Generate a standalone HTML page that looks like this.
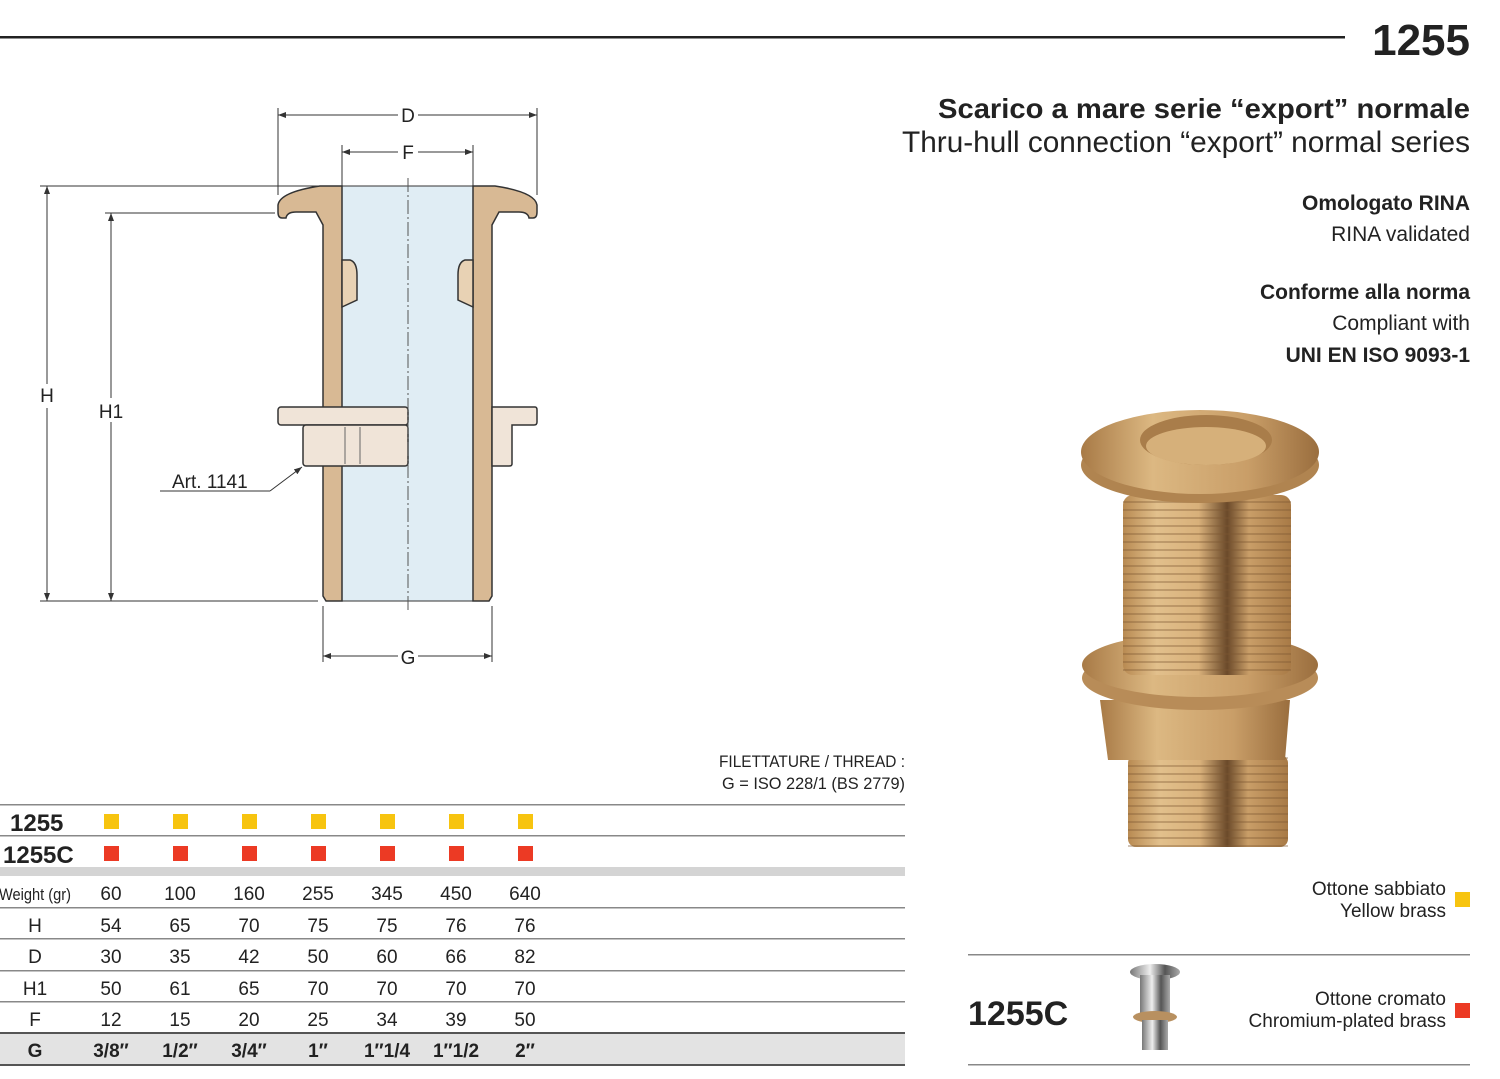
<!DOCTYPE html>
<html><head><meta charset="utf-8"><style>
html,body{margin:0;padding:0;background:#fff;}
svg{display:block;}
text{font-family:"Liberation Sans",sans-serif;fill:#222;}
</style></head><body>
<svg width="1500" height="1079" viewBox="0 0 1500 1079" xmlns="http://www.w3.org/2000/svg">
<defs>
<linearGradient id="br" x1="0" x2="1" y1="0" y2="0">
<stop offset="0" stop-color="#b88a52"/><stop offset="0.2" stop-color="#e2c08c"/><stop offset="0.45" stop-color="#d8b07a"/><stop offset="0.62" stop-color="#6b4a2a"/><stop offset="0.75" stop-color="#c99e68"/><stop offset="1" stop-color="#a87a46"/>
</linearGradient>
<linearGradient id="br2" x1="0" x2="1" y1="0" y2="0">
<stop offset="0" stop-color="#a87a46"/><stop offset="0.3" stop-color="#dcb882"/><stop offset="0.7" stop-color="#c99e68"/><stop offset="1" stop-color="#9a6e3e"/>
</linearGradient>
<pattern id="thr" width="10" height="8" patternUnits="userSpaceOnUse"><rect width="10" height="8" fill="none"/><rect y="5" width="10" height="2" fill="#7a5530" opacity="0.35"/></pattern>
<linearGradient id="ch" x1="0" x2="1"><stop offset="0" stop-color="#777"/><stop offset="0.4" stop-color="#eee"/><stop offset="0.7" stop-color="#555"/><stop offset="1" stop-color="#aaa"/></linearGradient>
<marker id="a" markerWidth="8" markerHeight="6" refX="8" refY="3" orient="auto-start-reverse" markerUnits="userSpaceOnUse"><path d="M0 0 L8 3 L0 6 Z" fill="#333"/></marker>
</defs>

<!-- header -->
<rect x="0" y="36" width="1345" height="2.5" fill="#222"/>
<text x="1470" y="55" text-anchor="end" font-size="44" font-weight="bold">1255</text>
<text x="1470" y="118" text-anchor="end" font-size="28" font-weight="bold" textLength="532" lengthAdjust="spacingAndGlyphs">Scarico a mare serie “export” normale</text>
<text x="1470" y="152" text-anchor="end" font-size="30" fill="#333" textLength="568" lengthAdjust="spacingAndGlyphs">Thru-hull connection “export” normal series</text>
<text x="1470" y="210" text-anchor="end" font-size="21" font-weight="bold">Omologato RINA</text>
<text x="1470" y="241" text-anchor="end" font-size="21" fill="#444">RINA validated</text>
<text x="1470" y="299" text-anchor="end" font-size="21" font-weight="bold">Conforme alla norma</text>
<text x="1470" y="330" text-anchor="end" font-size="21" fill="#444">Compliant with</text>
<text x="1470" y="362" text-anchor="end" font-size="21" font-weight="bold">UNI EN ISO 9093-1</text>

<!-- technical drawing -->
<g stroke="#333" stroke-width="1" fill="none">
<line x1="278" y1="115" x2="537" y2="115" marker-start="url(#a)" marker-end="url(#a)"/><line x1="278" y1="108" x2="278" y2="195"/><line x1="537" y1="108" x2="537" y2="195"/>
<line x1="342" y1="152" x2="473" y2="152" marker-start="url(#a)" marker-end="url(#a)"/><line x1="342" y1="145" x2="342" y2="186"/><line x1="473" y1="145" x2="473" y2="186"/>
<line x1="40" y1="186" x2="335" y2="186"/><line x1="105" y1="213" x2="275" y2="213"/><line x1="40" y1="601" x2="318" y2="601"/>
<line x1="47" y1="186" x2="47" y2="601" marker-start="url(#a)" marker-end="url(#a)"/><line x1="111" y1="213" x2="111" y2="601" marker-start="url(#a)" marker-end="url(#a)"/>
<line x1="323" y1="606" x2="323" y2="662"/><line x1="492" y1="606" x2="492" y2="662"/><line x1="323" y1="656" x2="492" y2="656" marker-start="url(#a)" marker-end="url(#a)"/>
<line x1="160" y1="491" x2="270" y2="491"/><line x1="270" y1="491" x2="302" y2="467" marker-end="url(#a)"/>
</g>
<rect x="36" y="384" width="22" height="24" fill="#fff"/><rect x="95" y="398" width="34" height="24" fill="#fff"/>
<rect x="398" y="105" width="20" height="20" fill="#fff"/><rect x="398" y="142" width="20" height="20" fill="#fff"/><rect x="398" y="646" width="20" height="20" fill="#fff"/>
<text x="408" y="122" text-anchor="middle" font-size="19">D</text>
<text x="408" y="159" text-anchor="middle" font-size="19">F</text>
<text x="47" y="402" text-anchor="middle" font-size="19">H</text>
<text x="111" y="418" text-anchor="middle" font-size="19">H1</text>
<text x="408" y="664" text-anchor="middle" font-size="19">G</text>
<text x="172" y="488" font-size="19">Art. 1141</text>

<rect x="342" y="186" width="131" height="415" fill="#e0edf4" stroke="#333" stroke-width="1"/>
<g fill="#d8b994" stroke="#333" stroke-width="1.5">
<path d="M342 186 L342 601 L326 601 L323 596 L323 225 L316 212 L296 212 Q287 212 286 218 L282 218 Q278 218 278 212 L278 205 Q280 192 320 186 Z"/>
<path d="M473 186 L473 601 L489 601 L492 596 L492 225 L499 212 L519 212 Q528 212 529 218 L533 218 Q537 218 537 212 L537 205 Q535 192 495 186 Z"/>
<path d="M342 260 L350 260 Q357 262 357 275 L357 300 L342 307 Z" fill="#e8d2b4"/>
<path d="M473 260 L465 260 Q458 262 458 275 L458 300 L473 307 Z" fill="#e8d2b4"/>
</g>
<g fill="#f0e4d8" stroke="#333" stroke-width="1.5">
<rect x="278" y="407" width="130" height="18" rx="3"/>
<rect x="303" y="425" width="105" height="41" rx="3"/>
<path d="M492 407 L535 407 Q537 407 537 410 L537 422 Q537 425 534 425 L512 425 L512 464 Q512 466 509 466 L492 466 Z"/>
</g>
<line x1="345" y1="427" x2="345" y2="464" stroke="#666"/><line x1="360" y1="427" x2="360" y2="464" stroke="#666"/>
<line x1="408" y1="178" x2="408" y2="610" stroke="#555" stroke-width="1" stroke-dasharray="14,3,2,3"/>

<!-- thread text -->
<text x="905" y="767" text-anchor="end" font-size="17" textLength="186" lengthAdjust="spacingAndGlyphs">FILETTATURE / THREAD :</text>
<text x="905" y="789" text-anchor="end" font-size="17" textLength="183" lengthAdjust="spacingAndGlyphs">G = ISO 228/1 (BS 2779)</text>

<!-- table -->
<g fill="#888">
<rect x="0" y="804" width="905" height="1.5"/><rect x="0" y="835" width="905" height="1.5"/>
<rect x="0" y="867" width="905" height="9" fill="#d4d4d4"/>
<rect x="0" y="907" width="905" height="1.5"/><rect x="0" y="938" width="905" height="1.5"/><rect x="0" y="970" width="905" height="1.5"/><rect x="0" y="1001" width="905" height="1.5"/>
<rect x="0" y="1033" width="905" height="32" fill="#e3e3e3"/>
<rect x="0" y="1032" width="905" height="2" fill="#555"/><rect x="0" y="1064" width="905" height="2" fill="#555"/>
</g>
<text x="10" y="831" font-size="24" font-weight="bold">1255</text>
<text x="3" y="863" font-size="24" font-weight="bold">1255C</text>
<g fill="#f7c40f"><rect x="104" y="814" width="15" height="15"/><rect x="173" y="814" width="15" height="15"/><rect x="242" y="814" width="15" height="15"/><rect x="311" y="814" width="15" height="15"/><rect x="380" y="814" width="15" height="15"/><rect x="449" y="814" width="15" height="15"/><rect x="518" y="814" width="15" height="15"/></g>
<g fill="#ec3a24"><rect x="104" y="846" width="15" height="15"/><rect x="173" y="846" width="15" height="15"/><rect x="242" y="846" width="15" height="15"/><rect x="311" y="846" width="15" height="15"/><rect x="380" y="846" width="15" height="15"/><rect x="449" y="846" width="15" height="15"/><rect x="518" y="846" width="15" height="15"/></g>
<g font-size="19" fill="#555" text-anchor="middle">
<text x="35" y="900" font-size="17" textLength="72" lengthAdjust="spacingAndGlyphs">Weight (gr)</text>
<text x="111" y="900">60</text><text x="180" y="900">100</text><text x="249" y="900">160</text><text x="318" y="900">255</text><text x="387" y="900">345</text><text x="456" y="900">450</text><text x="525" y="900">640</text>
<text x="35" y="932">H</text><text x="111" y="932">54</text><text x="180" y="932">65</text><text x="249" y="932">70</text><text x="318" y="932">75</text><text x="387" y="932">75</text><text x="456" y="932">76</text><text x="525" y="932">76</text>
<text x="35" y="963">D</text><text x="111" y="963">30</text><text x="180" y="963">35</text><text x="249" y="963">42</text><text x="318" y="963">50</text><text x="387" y="963">60</text><text x="456" y="963">66</text><text x="525" y="963">82</text>
<text x="35" y="995">H1</text><text x="111" y="995">50</text><text x="180" y="995">61</text><text x="249" y="995">65</text><text x="318" y="995">70</text><text x="387" y="995">70</text><text x="456" y="995">70</text><text x="525" y="995">70</text>
<text x="35" y="1026">F</text><text x="111" y="1026">12</text><text x="180" y="1026">15</text><text x="249" y="1026">20</text><text x="318" y="1026">25</text><text x="387" y="1026">34</text><text x="456" y="1026">39</text><text x="525" y="1026">50</text>
</g>
<g font-size="19" font-weight="bold" text-anchor="middle" fill="#222">
<text x="35" y="1057">G</text><text x="111" y="1057">3/8″</text><text x="180" y="1057">1/2″</text><text x="249" y="1057">3/4″</text><text x="318" y="1057">1″</text><text x="387" y="1057">1″1/4</text><text x="456" y="1057">1″1/2</text><text x="525" y="1057">2″</text>
</g>

<!-- photo -->
<rect x="1128" y="755" width="160" height="92" rx="8" fill="url(#br)"/>
<rect x="1128" y="755" width="160" height="92" fill="url(#thr)"/>
<path d="M1100 700 L1290 700 L1285 760 L1108 760 Z" fill="url(#br2)"/>
<ellipse cx="1200" cy="678" rx="118" ry="32" fill="#b88c58"/>
<ellipse cx="1200" cy="665" rx="118" ry="32" fill="url(#br2)"/>
<rect x="1123" y="495" width="168" height="180" rx="10" fill="url(#br)"/>
<rect x="1123" y="495" width="168" height="180" fill="url(#thr)"/>
<ellipse cx="1200" cy="465" rx="119" ry="38" fill="#b08450"/>
<ellipse cx="1200" cy="452" rx="119" ry="42" fill="url(#br2)"/>
<ellipse cx="1206" cy="440" rx="66" ry="25" fill="#a97d4a"/>
<ellipse cx="1206" cy="446" rx="60" ry="19" fill="#d6b07a"/>

<!-- bottom right -->
<text x="1446" y="895" text-anchor="end" font-size="19">Ottone sabbiato</text>
<text x="1446" y="917" text-anchor="end" font-size="19" fill="#444">Yellow brass</text>
<rect x="1455" y="892" width="15" height="15" fill="#f7c40f"/>
<rect x="968" y="954" width="502" height="1.5" fill="#888"/>
<rect x="968" y="1064" width="502" height="1.5" fill="#888"/>
<text x="968" y="1025" font-size="34" font-weight="bold">1255C</text>
<ellipse cx="1155" cy="972" rx="25" ry="8" fill="url(#ch)"/>
<rect x="1140" y="975" width="30" height="40" fill="url(#ch)"/>
<ellipse cx="1155" cy="1017" rx="22" ry="6" fill="#b89060"/>
<rect x="1142" y="1020" width="26" height="30" fill="url(#ch)"/>
<text x="1446" y="1005" text-anchor="end" font-size="19">Ottone cromato</text>
<text x="1446" y="1027" text-anchor="end" font-size="19" fill="#444">Chromium-plated brass</text>
<rect x="1455" y="1003" width="15" height="15" fill="#ec3a24"/>
</svg>
</body></html>
